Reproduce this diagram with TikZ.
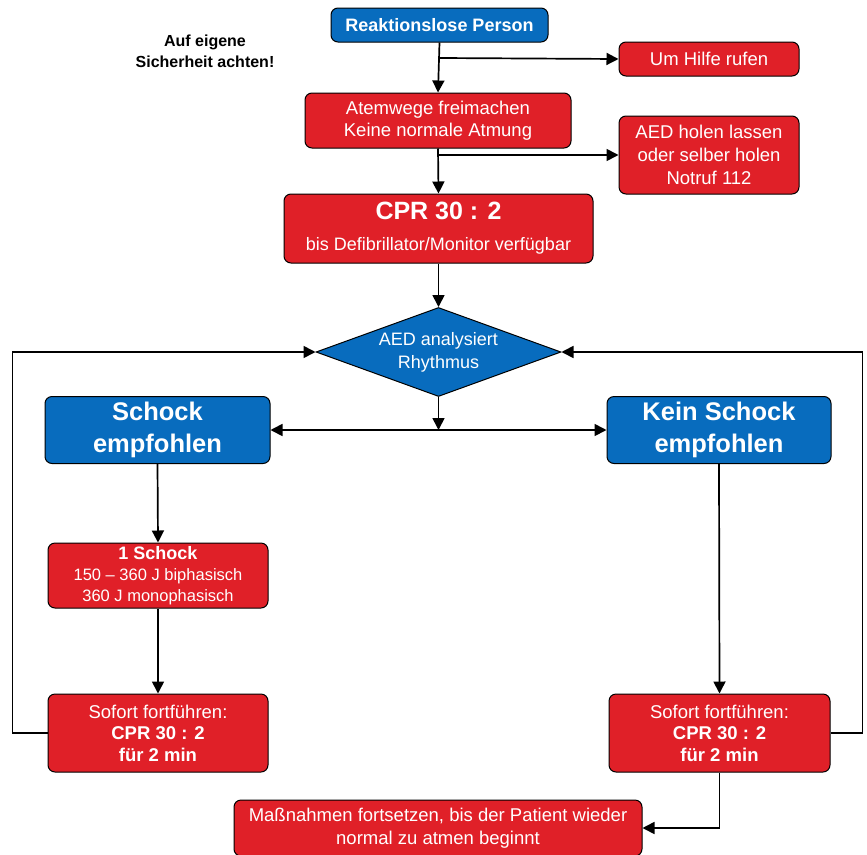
\documentclass[tikz,border=0pt]{standalone}
\usepackage{fontspec}
\setmainfont{Liberation Sans}
\usetikzlibrary{arrows.meta,shapes.geometric}
\definecolor{rd}{RGB}{224,32,40}
\definecolor{bl}{RGB}{8,108,190}
\begin{document}
\begin{tikzpicture}[x=1pt,y=-1pt,
  box/.style={draw=black, line width=1pt, rounded corners=7pt, text=white, align=center, inner sep=0pt},
  redbox/.style={box, fill=rd},
  bluebox/.style={box, fill=bl},
  arr/.style={-{Triangle[width=12pt,length=12pt]}, line width=1.7pt},
  ln/.style={line width=1.7pt}]
\useasboundingbox (0,0) rectangle (867,854);

\node[font=\bfseries\fontsize{16}{21}\selectfont, align=center] (warn) at (205,51) {Auf eigene\\Sicherheit achten!};

\node[bluebox, minimum width=217pt, minimum height=34pt, font=\bfseries\fontsize{18}{20}\selectfont] (rp) at (439.5,25) {Reaktionslose Person};
\node[redbox, minimum width=180pt, minimum height=34pt, font=\fontsize{18.5}{22}\selectfont] (hr) at (709,59) {Um Hilfe rufen};
\node[redbox, minimum width=266pt, minimum height=55pt, font=\fontsize{18.5}{22}\selectfont] (at) at (438,120.5) {Atemwege freimachen\\Keine normale Atmung};
\node[redbox, minimum width=180pt, minimum height=78pt, font=\fontsize{18.5}{23}\selectfont] (aed) at (709,155) {AED holen lassen\\oder selber holen\\Notruf 112};
\node[redbox, minimum width=309pt, minimum height=69pt, align=center, font=\fontsize{18}{31}\selectfont] (cpr) at (438.5,228.5)
  {{\bfseries\fontsize{25}{31}\selectfont CPR 30 : 2}\\bis Defibrillator/Monitor verfügbar};
\node[diamond, aspect=2.75, draw=black, line width=1pt, fill=bl, text=white, align=center, inner sep=0pt,
  minimum width=245pt, minimum height=89pt, font=\fontsize{18}{23}\selectfont] (dia) at (438.5,352) {AED analysiert\\Rhythmus};

\node[bluebox, minimum width=225pt, minimum height=67pt, font=\bfseries\fontsize{25.5}{32}\selectfont] (se) at (157.5,430) {Schock\\empfohlen};
\node[bluebox, minimum width=224pt, minimum height=67pt, font=\bfseries\fontsize{25.5}{32}\selectfont] (kse) at (719,430) {Kein Schock\\empfohlen};

\node[redbox, minimum width=220pt, minimum height=65pt, font=\fontsize{16.5}{21}\selectfont] (s1) at (158,575.5)
  {{\bfseries\fontsize{18}{21}\selectfont 1 Schock}\\150 – 360 J biphasisch\\360 J monophasisch};
\node[redbox, minimum width=220pt, minimum height=78pt, font=\fontsize{18.5}{21.5}\selectfont] (sl) at (158,733)
  {Sofort fortführen:\\\textbf{CPR 30 : 2}\\\textbf{für 2 min}};
\node[redbox, minimum width=221pt, minimum height=78pt, font=\fontsize{18.5}{21.5}\selectfont] (sr) at (719.5,733)
  {Sofort fortführen:\\\textbf{CPR 30 : 2}\\\textbf{für 2 min}};
\node[redbox, minimum width=408pt, minimum height=56pt, font=\fontsize{18.5}{23}\selectfont] (ma) at (438,828)
  {Maßnahmen fortsetzen, bis der Patient wieder\\normal zu atmen beginnt};

% top chain
\draw[arr] (rp.south) -- (at.north);
\coordinate (b1) at (439.5,58);
\draw[arr] (b1) -- (hr.west);
\draw[arr] (at.south) -- (cpr.north);
\coordinate (b2) at (438,155);
\draw[arr] (b2) -- (aed.west);
\draw[arr] (cpr.south) -- (dia.north);

% split
\coordinate (j) at (438.5,430);
\draw[arr] (dia.south) -- (j);
\draw[arr] (j) -- (se.east);
\draw[arr] (j) -- (kse.west);

% left branch
\draw[arr] (se.south) -- (s1.north);
\draw[arr] (s1.south) -- (sl.north);
\draw[arr] (sl.west) -- ++(-35,0) |- (dia.west);

% right branch
\draw[arr] (kse.south) -- (sr.north);
\draw[arr] (sr.east) -- ++(32,0) |- (dia.east);
\draw[arr] (sr.south) |- (ma.east);
\end{tikzpicture}
\end{document}
